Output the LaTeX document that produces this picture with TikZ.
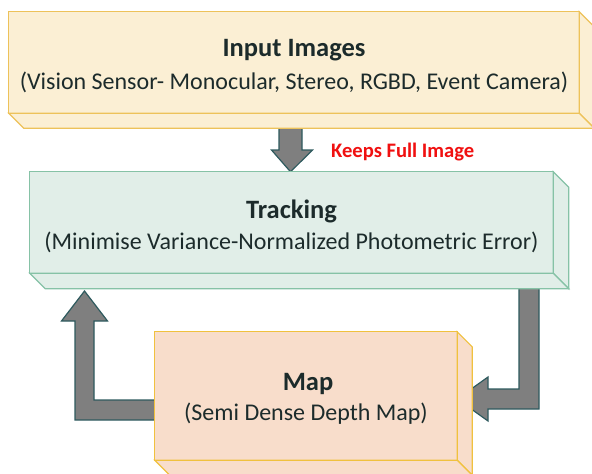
\documentclass[tikz,border=0pt]{standalone}
\usepackage{fontspec}
\setmainfont{Carlito}
\usetikzlibrary{calc}

\definecolor{inpfill}{HTML}{FBEFD4}
\definecolor{inpline}{HTML}{EDC25A}
\definecolor{trkfill}{HTML}{E1EEE8}
\definecolor{trkline}{HTML}{86C2A6}
\definecolor{mapfill}{HTML}{F8DDCB}
\definecolor{mapline}{HTML}{F0C13E}
\definecolor{arrfill}{HTML}{7F7F7F}
\definecolor{arrline}{HTML}{2E5A5E}
\definecolor{txt}{HTML}{1C2B2B}
\definecolor{note}{HTML}{F01010}

\tikzset{
  face/.style={line width=1.2pt, line join=miter},
  blockarrow/.style={fill=arrfill, draw=arrline, line width=1.2pt, line join=miter},
  title/.style={font=\fontsize{26.5}{30}\selectfont\bfseries, text=txt},
  sub/.style={font=\fontsize{24}{28}\selectfont, text=txt},
}

% a box drawn as a front face with its right and bottom faces
\newcommand{\slab}[4]{% name, fill, line, depth
  \draw[face, fill=#2, draw=#3] (#1.north east) -- ++(#4,#4) -- ($(#1.south east)+(#4,#4)$) -- (#1.south east) -- cycle;
  \draw[face, fill=#2, draw=#3] (#1.south west) -- ++(#4,#4) -- ($(#1.south east)+(#4,#4)$) -- (#1.south east) -- cycle;
}

\begin{document}
\begin{tikzpicture}[x=1pt, y=-1pt]
\useasboundingbox (0,0) rectangle (592,474);
\clip (0,0) rectangle (592,474);

% front faces of the three boxes
\path (294,62.5) node (inp) [rectangle, minimum width=570pt, minimum height=101pt, inner sep=0pt] {};
\path (291.5,222.5) node (trk) [rectangle, minimum width=523pt, minimum height=101pt, inner sep=0pt] {};
\path (306,396) node (map) [rectangle, minimum width=302pt, minimum height=128pt, inner sep=0pt] {};

% arrow Input -> Tracking
\coordinate (d0) at (290.5,127);
\draw[blockarrow] ($(d0)+(-11.5,0)$) -- ($(d0)+(11.5,0)$) -- ($(d0)+(11.5,23)$) -- ($(d0)+(22,23)$)
  -- (trk.north -| d0) -- ($(d0)+(-19,23)$) -- ($(d0)+(-11.5,23)$) -- cycle;

% arrow Tracking -> Map
\coordinate (r0) at (529,286);
\draw[blockarrow] ($(r0)+(-10,0)$) -- ($(r0)+(-10,103)$) -- (488,389) -- (488,377) -- (map.east |- 0,399)
  -- (488,421) -- (488,409) -- ($(r0)+(10,123)$) -- ($(r0)+(10,0)$) -- cycle;

% arrow Map -> Tracking
\coordinate (l0) at (84.5,291);
\draw[blockarrow] (map.west |- 0,400) -- (94,400) -- (94,321) -- (107.5,321) -- (l0)
  -- (61.5,321) -- (75,321) -- (75,420) -- (map.west |- 0,420) -- cycle;

% Input box
\draw[face, fill=inpfill, draw=inpline] (inp.south west) rectangle (inp.north east);
\slab{inp}{inpfill}{inpline}{15}
\node[title] at (294,50.5) {Input Images};
\node[sub] at (294,82.5) {(Vision Sensor- Monocular, Stereo, RGBD, Event Camera)};

% Tracking box
\draw[face, fill=trkfill, draw=trkline] (trk.south west) rectangle (trk.north east);
\slab{trk}{trkfill}{trkline}{15.5}
\node[title] at (291.5,211) {Tracking};
\node[sub] at (291.5,242) {(Minimise Variance-Normalized Photometric Error)};

% Map box
\draw[face, fill=mapfill, draw=mapline] (map.south west) rectangle (map.north east);
\slab{map}{mapfill}{mapline}{15}
\node[title] at (308,384) {Map};
\node[sub] at (306,414) {(Semi Dense Depth Map)};

% note beside the first arrow
\node[font=\fontsize{20.6}{24}\selectfont\bfseries, text=note, anchor=west, inner sep=0pt] (kfi) at (331,152) {Keeps Full Image};
\end{tikzpicture}
\end{document}
